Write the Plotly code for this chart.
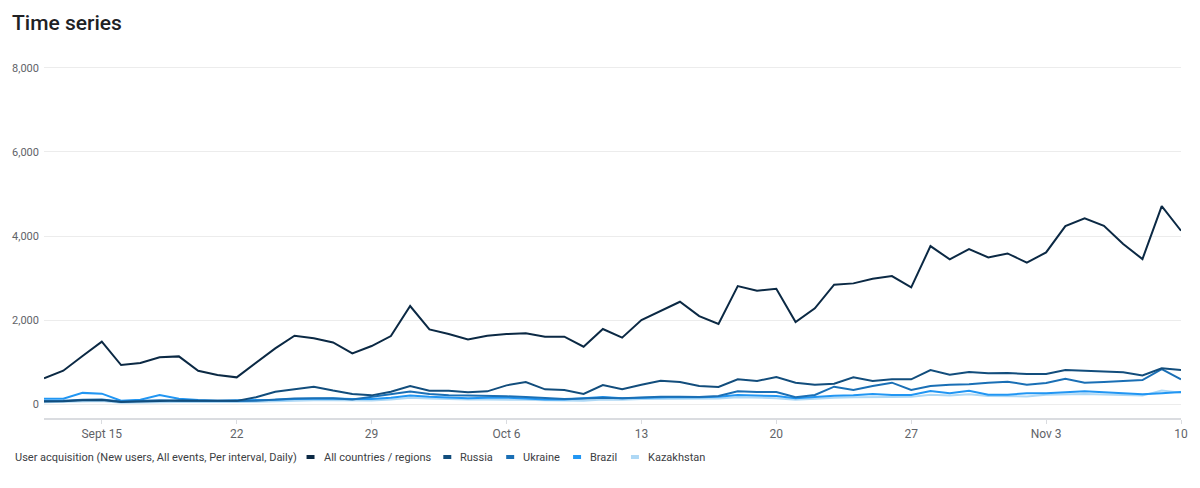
import pandas as pd
import plotly.graph_objects as go

dates = pd.date_range("2024-09-12", "2024-11-10", freq="D")

all_regions = [611, 793, 1142, 1483, 928, 976, 1111, 1134, 793, 690,
               635, 983, 1325, 1626, 1563, 1465, 1206, 1380, 1618, 2332,
               1777, 1666, 1539, 1626, 1666, 1682, 1602, 1602, 1365, 1785,
               1580, 1999, 2213, 2435, 2094, 1904, 2808, 2697, 2745, 1952,
               2277, 2840, 2872, 2983, 3046, 2777, 3760, 3443, 3689, 3490,
               3585, 3363, 3609, 4236, 4419, 4244, 3808, 3451, 4712, 4125]
russia = [60, 65, 90, 95, 50, 65, 75, 85, 75, 70,
          75, 159, 293, 349, 413, 320, 238, 206, 293, 428,
          317, 317, 278, 301, 444, 523, 349, 333, 238, 452,
          352, 460, 555, 523, 428, 404, 590, 547, 642, 505,
          460, 483, 635, 547, 587, 587, 809, 698, 762, 730,
          738, 714, 714, 809, 785, 762, 754, 682, 849, 809]
ukraine = [70, 75, 100, 110, 60, 70, 90, 80, 75, 70,
           70, 80, 110, 130, 140, 140, 110, 170, 240, 300,
           240, 210, 200, 200, 185, 165, 135, 120, 130, 150,
           135, 159, 175, 175, 167, 190, 301, 285, 285, 159,
           215, 413, 333, 428, 508, 333, 428, 460, 468, 508,
           531, 460, 500, 603, 508, 523, 539, 571, 833, 587]
brazil = [127, 127, 265, 246, 79, 103, 214, 127, 95, 79,
          87, 90, 100, 120, 130, 130, 120, 120, 150, 200,
          170, 150, 140, 150, 150, 130, 110, 110, 130, 165,
          135, 150, 160, 165, 160, 175, 215, 198, 190, 135,
          175, 198, 206, 238, 215, 214, 309, 254, 317, 222,
          222, 254, 254, 286, 301, 278, 254, 230, 254, 286]
kazakhstan = [40, 45, 60, 70, 30, 40, 50, 50, 45, 40,
              45, 55, 70, 80, 90, 90, 80, 85, 110, 150,
              130, 115, 110, 105, 110, 100, 90, 85, 80, 110,
              100, 120, 125, 130, 125, 130, 160, 150, 140, 100,
              130, 150, 160, 170, 165, 170, 220, 200, 230, 190,
              190, 180, 220, 230, 240, 225, 215, 200, 320, 270]

series_names = ["All countries / regions", "Russia", "Ukraine", "Brazil", "Kazakhstan"]
series_values = [all_regions, russia, ukraine, brazil, kazakhstan]
colors = ["#0b2944", "#124d7c", "#1a6fb5", "#2196f3", "#aed8f5"]
widths = [2, 2, 2, 2, 2]

tick_dates = ["2024-09-15", "2024-09-22", "2024-09-29", "2024-10-06", "2024-10-13",
              "2024-10-20", "2024-10-27", "2024-11-03", "2024-11-10"]
tick_labels = ["Sept 15", "22", "29", "Oct 6", "13", "20", "27", "Nov 3", "10"]
y_ticks = [0, 2000, 4000, 6000, 8000]
legend_title = "User acquisition (New users, All events, Per interval, Daily)"

fig = go.Figure()
for name, vals, col, w in reversed(list(zip(series_names, series_values, colors, widths))):
    fig.add_trace(go.Scatter(x=dates, y=vals, mode="lines", name=name,
                             line=dict(color=col, width=w), showlegend=False))

W, H = 1200, 488
L, R, T, B = 43, 18, 60, 70
pw, ph = W - L - R, H - T - B


def px_x(px):
    return (px - L) / pw


def px_y(py):
    return (H - B - py) / ph


font_fam = "Roboto, Arial, sans-serif"
annotations = []
shapes = []
leg_y = 457
annotations.append(dict(x=px_x(12), y=px_y(leg_y), xref="paper", yref="paper",
                        text=legend_title, showarrow=False, xanchor="left", yanchor="middle",
                        font=dict(family=font_fam, size=11, color="#3c4043")))
sym_x = [310, 447, 510, 577, 635]
for name, col, sx in zip(series_names, colors, sym_x):
    shapes.append(dict(type="line", xref="paper", yref="paper",
                       x0=px_x(sx - 4), x1=px_x(sx + 4), y0=px_y(leg_y), y1=px_y(leg_y),
                       line=dict(color=col, width=4)))
    annotations.append(dict(x=px_x(sx + 11), y=px_y(leg_y), xref="paper", yref="paper",
                            text=name, showarrow=False, xanchor="left", yanchor="middle",
                            font=dict(family=font_fam, size=11, color="#3c4043")))

fig.update_layout(
    width=W, height=H,
    margin=dict(l=L, r=R, t=T, b=B, pad=0),
    paper_bgcolor="white", plot_bgcolor="white",
    title=dict(text="Time series", x=12 / W, xref="container", xanchor="left",
               y=1 - 23 / H, yref="container", yanchor="middle",
               font=dict(family=font_fam, size=21, color="#202124", weight=500)),
    showlegend=False,
    annotations=annotations,
    shapes=shapes,
    xaxis=dict(range=[dates[0], dates[-1]], tickvals=pd.to_datetime(tick_dates), ticktext=tick_labels,
               showgrid=False, zeroline=False, showline=True, linecolor="#dadce0", linewidth=2,
               ticks="outside", ticklen=4, tickcolor="#dadce0", tickwidth=1,
               tickfont=dict(family=font_fam, size=12, color="#5f6368")),
    yaxis=dict(range=[-333, 8190], tickvals=y_ticks, tickformat=",d",
               showgrid=True, gridcolor="#ececec", gridwidth=1, zeroline=False,
               showline=False, ticks="", ticklabelstandoff=4,
               tickfont=dict(family=font_fam, size=11, color="#5f6368")),
)

fig.write_html("out.html")
